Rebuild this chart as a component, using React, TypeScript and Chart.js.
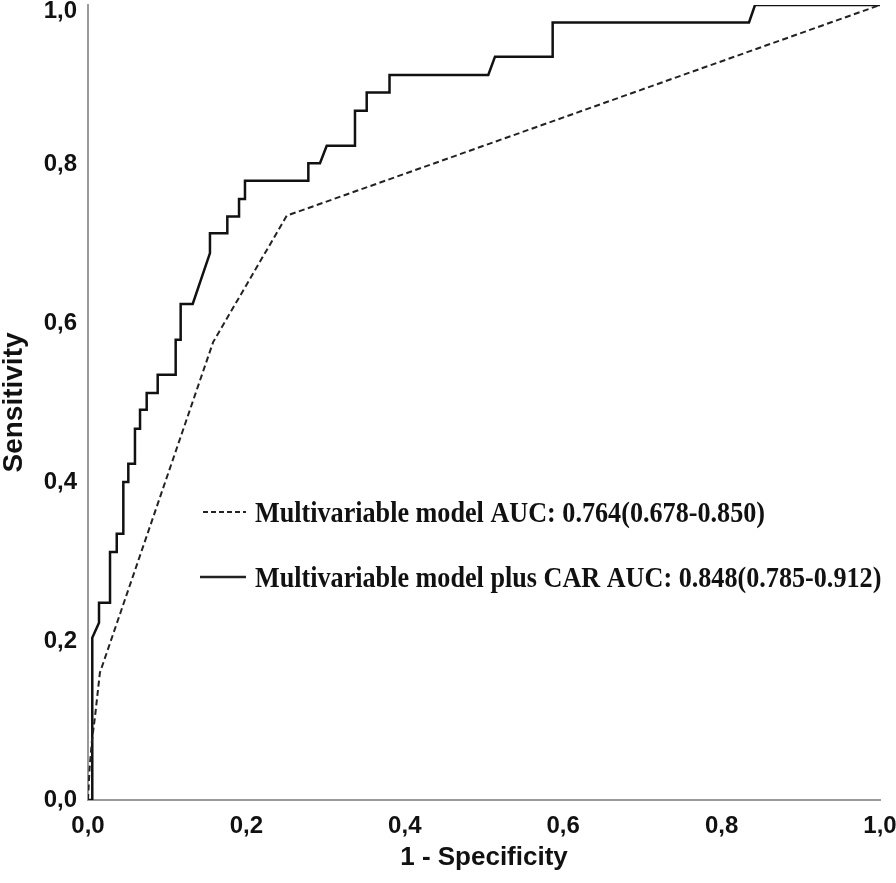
import React, { useEffect, useRef } from 'react';
import { Chart, registerables } from 'chart.js';

Chart.register(...registerables);

// ROC curve: Multivariable model plus CAR (solid, step curve)
const solidX = [
  0, 0.0054, 0.0054, 0.0139, 0.0139, 0.0278, 0.0278, 0.0363, 0.0363, 0.0446,
  0.0446, 0.0509, 0.0509, 0.0593, 0.0593, 0.0657, 0.0657, 0.0741, 0.0741, 0.088,
  0.088, 0.1107, 0.1107, 0.117, 0.117, 0.1322, 0.154, 0.154, 0.1759, 0.1759,
  0.1907, 0.1907, 0.1982, 0.1982, 0.2782, 0.2782, 0.2929, 0.3014, 0.3371, 0.3371,
  0.3519, 0.3519, 0.3807, 0.3807, 0.5054, 0.5139, 0.5867, 0.5867, 0.8346, 0.8422,
  1.0,
];
const solidY = [
  0, 0, 0.204, 0.223, 0.248, 0.248, 0.312, 0.312, 0.335, 0.335,
  0.4, 0.4, 0.423, 0.423, 0.467, 0.467, 0.491, 0.491, 0.512, 0.512,
  0.535, 0.535, 0.579, 0.579, 0.624, 0.624, 0.688, 0.713, 0.713, 0.734,
  0.734, 0.756, 0.756, 0.779, 0.779, 0.801, 0.801, 0.823, 0.823, 0.867,
  0.867, 0.89, 0.89, 0.912, 0.912, 0.935, 0.935, 0.978, 0.978, 1.0,
  1.0,
];

// ROC curve: Multivariable model (dashed)
const dashedX = [0, 0.002, 0.005, 0.009, 0.015, 0.158, 0.251, 1.0];
const dashedY = [0, 0.04, 0.075, 0.106, 0.16, 0.576, 0.735, 1.0];

const legendLabels = [
  'Multivariable model AUC: 0.764(0.678-0.850)',
  'Multivariable model plus CAR AUC: 0.848(0.785-0.912)',
];
const xTitle = '1 - Specificity';
const yTitle = 'Sensitivity';
const tickStep = 0.2;

const toPoints = (xs: number[], ys: number[]) => xs.map((x, i) => ({ x, y: ys[i] }));

const legendPlugin = {
  id: 'insideLegend',
  afterDatasetsDraw(chart: any) {
    const ctx = chart.ctx as CanvasRenderingContext2D;
    const rows = [
      { base: 522, mid: 512, x0: 203, x1: 246, dash: [5, 3], width: 2 },
      { base: 587, mid: 577, x0: 200, x1: 246, dash: [] as number[], width: 2.5 },
    ];
    const sx = 0.872;
    ctx.save();
    rows.forEach((r, i) => {
      ctx.beginPath();
      ctx.setLineDash(r.dash);
      ctx.lineWidth = r.width;
      ctx.strokeStyle = '#222';
      ctx.moveTo(r.x0, r.mid);
      ctx.lineTo(r.x1, r.mid);
      ctx.stroke();
      ctx.setLineDash([]);
      ctx.save();
      ctx.translate(255, r.base);
      ctx.scale(sx, 1);
      ctx.fillStyle = '#111';
      ctx.font = 'bold 30px "Liberation Serif", "Times New Roman", serif';
      ctx.textBaseline = 'alphabetic';
      ctx.textAlign = 'left';
      ctx.fillText(legendLabels[i], 0, 0);
      ctx.restore();
    });
    ctx.restore();
  },
};

const noPad = (s: any) => {
  s.paddingTop = 0;
  s.paddingBottom = 0;
  s.paddingLeft = 0;
  s.paddingRight = 0;
};

export default function App() {
  const canvasRef = useRef<HTMLCanvasElement | null>(null);

  useEffect(() => {
    document.body.style.margin = '0';
    const canvas = canvasRef.current;
    if (!canvas) return;
    const tickFont = { family: '"Liberation Sans", Arial, sans-serif', size: 24, weight: 'bold' as const };
    const fmt = (v: any) => Number(v).toFixed(1).replace('.', ',');
    // the top y label sits a little below its tick so it is not cut off
    const fmtY = (v: any) => (Number(v) >= 1 ? ['', fmt(v)] : fmt(v));
    const chart = new Chart(canvas, {
      type: 'line',
      data: {
        datasets: [
          {
            label: legendLabels[0],
            data: toPoints(dashedX, dashedY),
            borderColor: '#222',
            borderWidth: 2,
            borderDash: [6, 3.5],
            pointRadius: 0,
            tension: 0,
            fill: false,
          },
          {
            label: legendLabels[1],
            data: toPoints(solidX, solidY),
            borderColor: '#111',
            borderWidth: 2.5,
            pointRadius: 0,
            tension: 0,
            fill: false,
          },
        ],
      },
      plugins: [legendPlugin],
      options: {
        animation: false,
        responsive: false,
        parsing: false as any,
        layout: { padding: { top: 5, right: 16, left: 0, bottom: 0 }, autoPadding: false } as any,
        plugins: { legend: { display: false }, tooltip: { enabled: false } },
        scales: {
          x: {
            type: 'linear',
            min: 0,
            max: 1,
            afterFit: (s: any) => { s.height = 83; noPad(s); },
            grid: { display: false, drawTicks: false },
            border: { display: true, color: '#9a9a9a', width: 2 },
            ticks: { stepSize: tickStep, callback: fmt, font: tickFont, color: '#111', padding: 12, maxRotation: 0 },
            title: {
              display: true, text: xTitle, color: '#111',
              font: { family: '"Liberation Sans", Arial, sans-serif', size: 26, weight: 'bold', lineHeight: 1 },
              padding: { bottom: 12, top: 0 },
            },
          },
          y: {
            type: 'linear',
            min: 0,
            max: 1,
            afterFit: (s: any) => { s.width = 88; noPad(s); },
            grid: { display: false, drawTicks: false },
            border: { display: true, color: '#9a9a9a', width: 2 },
            ticks: {
              stepSize: tickStep,
              callback: fmtY,
              font: (c: any) => (c.tick && c.tick.value >= 1 ? { ...tickFont, lineHeight: '12px' } : tickFont),
              color: '#111',
              padding: 11,
            },
            title: {
              display: true, text: yTitle, color: '#111',
              font: { family: '"Liberation Sans", Arial, sans-serif', size: 28, weight: 'bold', lineHeight: 1 },
              padding: { top: 0, bottom: 0 },
            },
          },
        },
      },
    });
    return () => chart.destroy();
  }, []);

  return (
    <div style={{ width: 896, height: 883, background: '#fff' }}>
      <canvas ref={canvasRef} width={896} height={883} style={{ width: 896, height: 883, display: 'block' }} />
    </div>
  );
}
